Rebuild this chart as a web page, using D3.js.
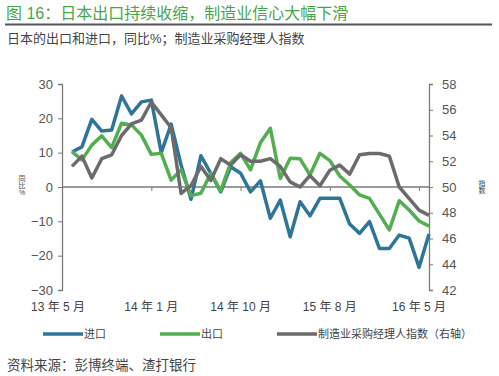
<!DOCTYPE html>
<html>
<head>
<meta charset="utf-8">
<script src="https://cdn.jsdelivr.net/npm/d3@7"></script>
<style>
  body { margin: 0; background: #fff; }
  svg text { font-family: "Liberation Sans", "Noto Sans CJK SC", sans-serif; }
</style>
</head>
<body>
<div id="chart"></div>
<script>
// Data: monthly, May 2013 .. May 2016
const imports = [10.2, 11.7, 19.7, 16.3, 16.6, 26.5, 21.3, 24.8, 25.3, 10.0,
  18.3, 6.4, -3.6, 9.1, 4.0, -1.4, 5.9, 4.0, -1.4, 1.8,
  -9.1, -3.8, -14.5, -4.3, -8.4, -3.3, -3.3, -3.3, -10.8, -13.5,
  -10.1, -17.9, -17.9, -14.0, -14.9, -23.4, -13.7]
const exports = [10.3, 7.9, 12.2, 14.9, 11.5, 18.6, 18.1, 15.1, 9.5, 9.8,
  2.0, 5.0, -2.5, -1.8, 4.0, -1.1, 7.1, 9.8, 5.0, 12.9,
  17.1, 2.5, 8.4, 8.2, 3.5, 9.8, 7.7, 3.2, 0.6, -2.3,
  -3.3, -7.9, -12.5, -4.0, -6.7, -9.9, -11.4]
const pmi = [51.6, 52.4, 50.7, 52.2, 52.5, 54.0, 54.9, 55.2, 56.6, 55.6,
  54.6, 49.5, 50.1, 51.6, 50.5, 52.2, 51.7, 52.5, 52.0, 52.0,
  52.2, 51.6, 50.4, 50.0, 50.9, 50.1, 51.3, 51.7, 51.0, 52.5,
  52.6, 52.6, 52.4, 50.0, 49.1, 48.2, 47.8]
const xTickIdx = [-1, 8, 17, 26, 35]
const xTickLabels = ["13 年 5 月", "14 年 1 月", "14 年 10 月", "15 年 8 月", "16 年 5 月"]
const leftTicks = [-30, -20, -10, 0, 10, 20, 30]
const rightTicks = [42, 44, 46, 48, 50, 52, 54, 56, 58]
const seriesNames = ["进口", "出口", "制造业采购经理人指数（右轴）"]
const colors = ["#2f7599", "#52ae4f", "#6b6b6d"]

const width = 499, height = 376
const svg = d3.select("#chart").append("svg")
  .attr("width", width).attr("height", height)

// Title block
svg.append("text").attr("x", 6).attr("y", 19)
  .attr("fill", "#4aa548").style("font-size", "16px")
  .text("图 16：日本出口持续收缩，制造业信心大幅下滑")
svg.append("line").attr("x1", 5).attr("x2", 492).attr("y1", 24.5).attr("y2", 24.5)
  .attr("stroke", "#555").attr("stroke-width", 2)
svg.append("text").attr("x", 7).attr("y", 43)
  .attr("fill", "#444").style("font-size", "13px")
  .text("日本的出口和进口，同比%；制造业采购经理人指数")

// Scales
const x = d3.scaleLinear().domain([0, 36]).range([72, 429])
const yL = d3.scaleLinear().domain([-30, 30]).range([290, 84])
const yR = d3.scaleLinear().domain([42, 58]).range([290, 84])
const axisColor = "#7a7a7a"

// Left axis
const leftAxis = svg.append("g").attr("transform", "translate(62,0)")
  .call(d3.axisLeft(yL).tickValues(leftTicks).tickSize(4).tickPadding(5))
leftAxis.select(".domain").attr("stroke", axisColor).attr("stroke-width", 1.3)
leftAxis.selectAll(".tick line").attr("stroke", axisColor)
leftAxis.selectAll(".tick text").attr("fill", "#555").style("font-size", "13px")

// Right axis
const rightAxis = svg.append("g").attr("transform", "translate(429,0)")
  .call(d3.axisRight(yR).tickValues(rightTicks).tickSize(4).tickPadding(9))
rightAxis.select(".domain").attr("stroke", axisColor).attr("stroke-width", 1.3)
rightAxis.selectAll(".tick line").attr("stroke", axisColor)
rightAxis.selectAll(".tick text").attr("fill", "#555").style("font-size", "13px")

// Zero line with category ticks
const xAxis = svg.append("g").attr("transform", `translate(0,${yL(0)})`)
  .call(d3.axisBottom(x).tickValues(xTickIdx.slice(1)).tickSize(4).tickFormat(""))
xAxis.select(".domain").attr("d", `M${62},0H429`).attr("stroke", axisColor).attr("stroke-width", 1.3)
xAxis.selectAll(".tick line").attr("stroke", axisColor)

// X labels below plot
svg.append("g").selectAll("text").data(xTickIdx).join("text")
  .attr("x", (d, i) => i === 0 ? 58 : x(d))
  .attr("y", 311)
  .attr("text-anchor", "middle")
  .attr("fill", "#444").style("font-size", "12px")
  .text((d, i) => xTickLabels[i])

// Axis titles (vertical)
const yTitle = svg.append("text").attr("fill", "#444").style("font-size", "7px")
  .attr("text-anchor", "middle")
;["同", "比", "%"].forEach((c, i) => {
  yTitle.append("tspan").attr("x", 22).attr("y", 181 + i * 7).text(c)
})
const rTitle = svg.append("text").attr("fill", "#444").style("font-size", "7px")
  .attr("text-anchor", "middle")
;["指", "数"].forEach((c, i) => {
  rTitle.append("tspan").attr("x", 482).attr("y", 186 + i * 7).text(c)
})

// Lines
const lineL = d3.line().x((d, i) => x(i)).y(d => yL(d))
const lineR = d3.line().x((d, i) => x(i)).y(d => yR(d))
svg.append("path").attr("d", lineL(imports))
  .attr("fill", "none").attr("stroke", colors[0]).attr("stroke-width", 3.5)
  .attr("stroke-linejoin", "round")
svg.append("path").attr("d", lineL(exports))
  .attr("fill", "none").attr("stroke", colors[1]).attr("stroke-width", 3.5)
  .attr("stroke-linejoin", "round")
svg.append("path").attr("d", lineR(pmi))
  .attr("fill", "none").attr("stroke", colors[2]).attr("stroke-width", 3.5)
  .attr("stroke-linejoin", "round")

// Legend
const legendX = [43, 160, 277]
const legend = svg.append("g").selectAll("g").data(seriesNames).join("g")
  .attr("transform", (d, i) => `translate(${legendX[i]},334)`)
legend.append("line").attr("x1", 0).attr("x2", 40)
  .attr("stroke", (d, i) => colors[i]).attr("stroke-width", 3.5)
legend.append("text").attr("x", 41).attr("y", 4)
  .attr("fill", "#444").style("font-size", "11px")
  .text(d => d)

// Source
svg.append("text").attr("x", 7).attr("y", 370)
  .attr("fill", "#444").style("font-size", "13.5px")
  .text("资料来源：彭博终端、渣打银行")
</script>
</body>
</html>
